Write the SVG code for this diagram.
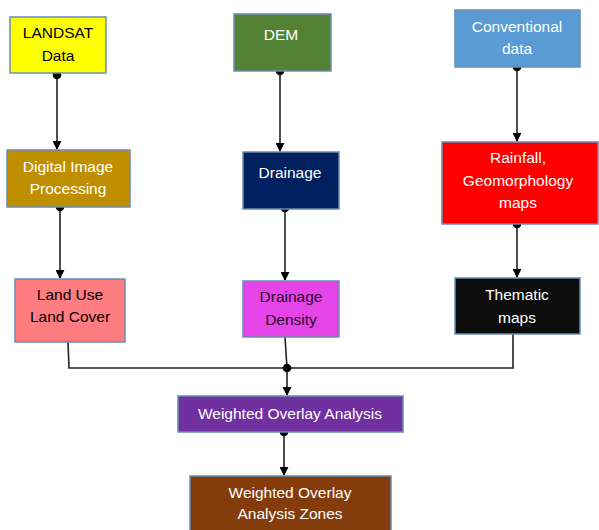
<svg xmlns="http://www.w3.org/2000/svg" width="599" height="530" viewBox="0 0 599 530">
<defs>
<style>
.box{stroke:#6A8CB5;stroke-width:1.5}
.t{font-family:"Liberation Sans",Arial,sans-serif;font-size:15.5px;text-anchor:middle}
.w{fill:#ffffff}
.k{fill:#000000}
.c{fill:none;stroke:#222;stroke-width:1.6}
.dot{fill:#000}
</style>
<marker id="ah" viewBox="0 0 10 10" refX="9" refY="5" markerWidth="9" markerHeight="9" markerUnits="userSpaceOnUse" orient="auto">
<path d="M0,0 L10,5 L0,10 Z" fill="#000"/>
</marker>
</defs>
<rect width="599" height="530" fill="#ffffff"/>
<g id="connectors">
<path class="c" d="M57,75 V149" marker-end="url(#ah)"/>
<circle class="dot" cx="57" cy="75" r="4.3"/>
<path class="c" d="M60,207 V278" marker-end="url(#ah)"/>
<circle class="dot" cx="60" cy="207" r="4.3"/>
<path class="c" d="M280,71 V151" marker-end="url(#ah)"/>
<circle class="dot" cx="280" cy="71" r="4.3"/>
<path class="c" d="M285,208 V280" marker-end="url(#ah)"/>
<circle class="dot" cx="285" cy="208" r="4.3"/>
<path class="c" d="M517,67 V141" marker-end="url(#ah)"/>
<circle class="dot" cx="517" cy="67" r="4.3"/>
<path class="c" d="M517,224 V277" marker-end="url(#ah)"/>
<circle class="dot" cx="517" cy="224" r="4.3"/>
<path class="c" d="M68,342 L69,368 H513 V334"/>
<path class="c" d="M285,337 L287,368"/>
<path class="c" d="M287,368 V395" marker-end="url(#ah)"/>
<circle class="dot" cx="287" cy="368" r="4.3"/>
<path class="c" d="M284,432 V475" marker-end="url(#ah)"/>
<circle class="dot" cx="284" cy="432" r="4.3"/>
</g>
<g id="landsat">
<rect class="box" x="10" y="17" width="96" height="56" fill="#FFFF00"/>
<text class="t k" x="58" y="38">LANDSAT</text>
<text class="t k" x="58" y="61">Data</text>
</g>
<g id="dem">
<rect class="box" x="234" y="14" width="97" height="57" fill="#548235"/>
<text class="t w" x="281" y="40">DEM</text>
</g>
<g id="conventional">
<rect class="box" x="455" y="10" width="125" height="57" fill="#5B9BD5"/>
<text class="t w" x="517" y="32">Conventional</text>
<text class="t w" x="517" y="54">data</text>
</g>
<g id="dip">
<rect class="box" x="7" y="150" width="123" height="57" fill="#BF8F00"/>
<text class="t w" x="68" y="172">Digital Image</text>
<text class="t w" x="68" y="194">Processing</text>
</g>
<g id="drainage">
<rect class="box" x="243" y="152" width="96" height="57" fill="#002060"/>
<text class="t w" x="290" y="178">Drainage</text>
</g>
<g id="rainfall">
<rect class="box" x="442" y="142" width="156" height="82" fill="#FF0000"/>
<text class="t w" x="518" y="163">Rainfall,</text>
<text class="t w" x="518" y="186">Geomorphology</text>
<text class="t w" x="518" y="208">maps</text>
</g>
<g id="landuse">
<rect class="box" x="15" y="279" width="110" height="63" fill="#FF7C80"/>
<text class="t k" x="70" y="300">Land Use</text>
<text class="t k" x="70" y="322">Land Cover</text>
</g>
<g id="density">
<rect class="box" x="243" y="281" width="96" height="56" fill="#E444E8"/>
<text class="t" fill="#2a0a2a" x="291" y="302">Drainage</text>
<text class="t" fill="#2a0a2a" x="291" y="325">Density</text>
</g>
<g id="thematic">
<rect class="box" x="455" y="278" width="125" height="56" fill="#0D0D0D"/>
<text class="t w" x="517" y="300">Thematic</text>
<text class="t w" x="517" y="323">maps</text>
</g>
<g id="woa">
<rect class="box" x="178" y="396" width="225" height="36" fill="#7030A0"/>
<text class="t w" x="290" y="419">Weighted Overlay Analysis</text>
</g>
<g id="zones">
<rect class="box" x="190" y="476" width="201" height="60" fill="#843C0C"/>
<text class="t w" x="290" y="498">Weighted Overlay</text>
<text class="t w" x="290" y="519">Analysis Zones</text>
</g>
</svg>
